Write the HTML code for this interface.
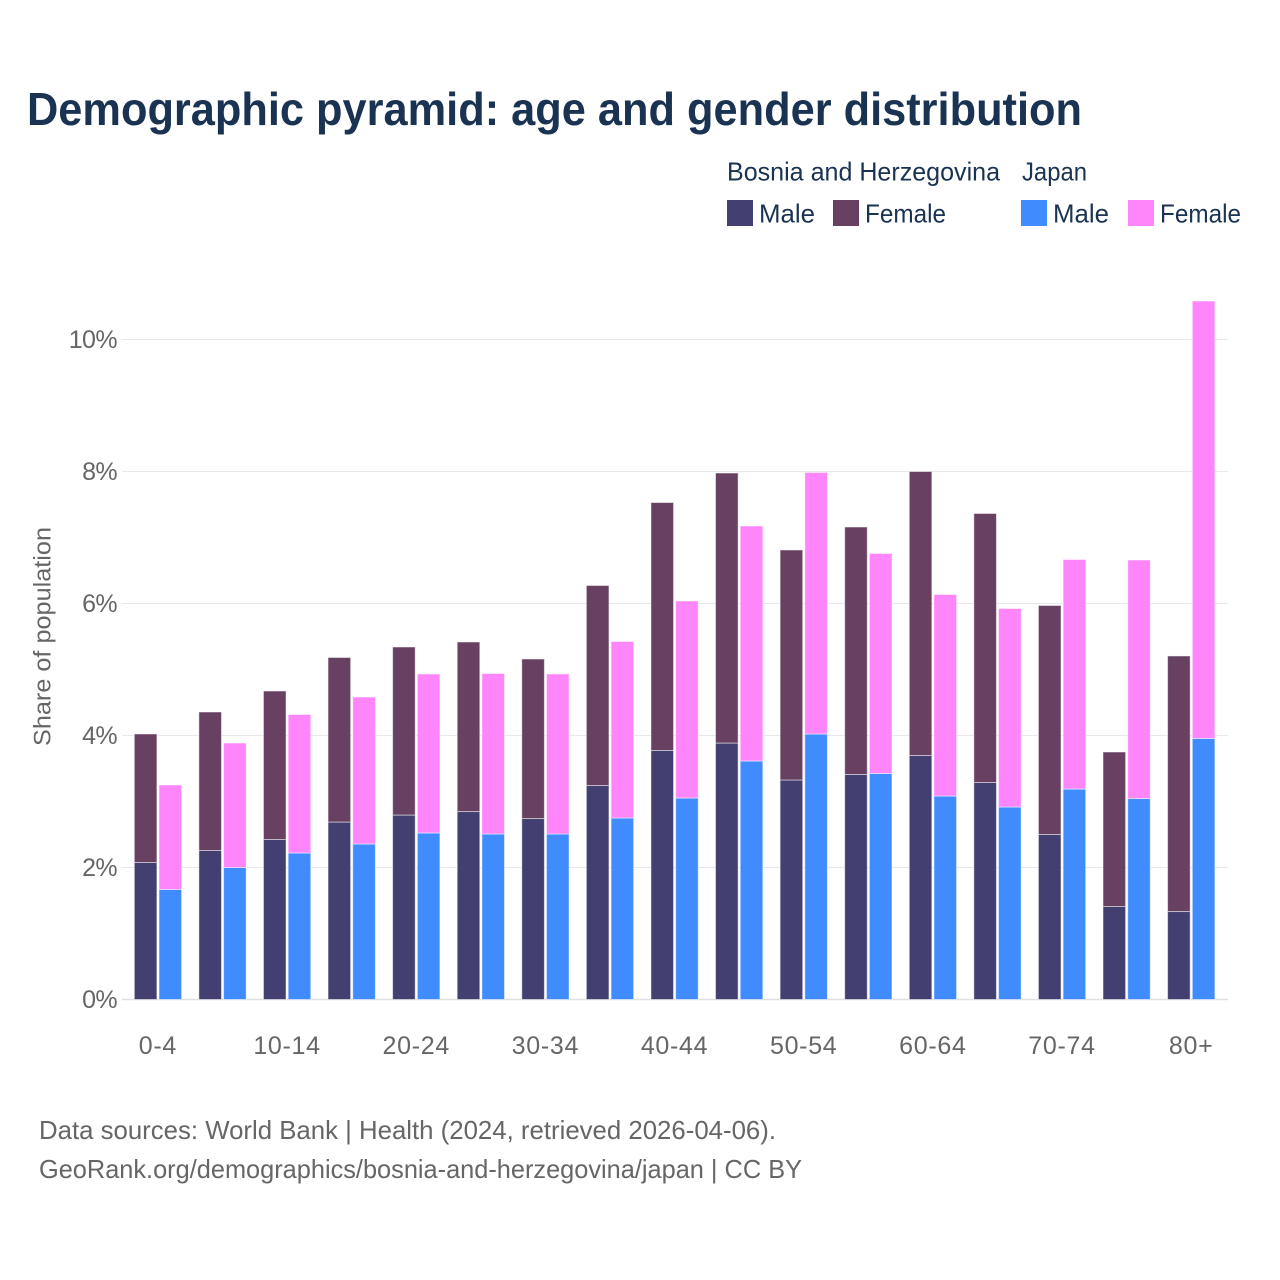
<!DOCTYPE html>
<html lang="en">
<head>
<meta charset="utf-8">
<title>Demographic pyramid: age and gender distribution</title>
<style>
html,body{margin:0;padding:0;background:#fff;}
svg{display:block;font-family:"Liberation Sans",sans-serif;}
</style>
</head>
<body>
<svg id="chart" xmlns="http://www.w3.org/2000/svg" width="1280" height="1280" viewBox="0 0 1280 1280">
  <rect x="0" y="0" width="1280" height="1280" fill="#ffffff"/>
  <text x="27" y="125" font-size="46" font-weight="700" fill="#1a3352" textLength="1055" lengthAdjust="spacingAndGlyphs">Demographic pyramid: age and gender distribution</text>

  <g font-size="26" fill="#1a3352">
    <text x="727" y="180.5" textLength="273" lengthAdjust="spacingAndGlyphs">Bosnia and Herzegovina</text>
    <text x="1022" y="180.5" textLength="65" lengthAdjust="spacingAndGlyphs">Japan</text>
    <rect x="727" y="200" width="26" height="26" fill="#433f70"/>
    <text x="759" y="222.5" textLength="56" lengthAdjust="spacingAndGlyphs">Male</text>
    <rect x="833" y="200" width="26" height="26" fill="#674062"/>
    <text x="865" y="222.5" textLength="81" lengthAdjust="spacingAndGlyphs">Female</text>
    <rect x="1021" y="200" width="26" height="26" fill="#408cff"/>
    <text x="1053" y="222.5" textLength="56" lengthAdjust="spacingAndGlyphs">Male</text>
    <rect x="1128" y="200" width="26" height="26" fill="#ff85fa"/>
    <text x="1160" y="222.5" textLength="81" lengthAdjust="spacingAndGlyphs">Female</text>
  </g>

  <g id="grid"></g>
  <g id="bars"></g>
  <g id="y-axis" font-size="25" fill="#666666" text-anchor="end" letter-spacing="-0.6"></g>
  <g id="x-axis" font-size="25" fill="#666666" text-anchor="middle" letter-spacing="0.7"></g>

  <text transform="translate(50.5,636.5) rotate(-90)" text-anchor="middle" font-size="24" fill="#666666" textLength="219" lengthAdjust="spacingAndGlyphs">Share of population</text>

  <g font-size="26" fill="#666666">
    <text x="39" y="1139" textLength="737" lengthAdjust="spacingAndGlyphs">Data sources: World Bank | Health (2024, retrieved 2026-04-06).</text>
    <text x="39" y="1178" textLength="763" lengthAdjust="spacingAndGlyphs">GeoRank.org/demographics/bosnia-and-herzegovina/japan | CC BY</text>
  </g>
</svg>
<script>
const categories = ["0-4","5-9","10-14","15-19","20-24","25-29","30-34","35-39","40-44","45-49","50-54","55-59","60-64","65-69","70-74","75-79","80+"];
const bosniaMale = [2.076,2.258,2.424,2.689,2.795,2.848,2.742,3.242,3.773,3.886,3.326,3.409,3.697,3.288,2.5,1.409,1.333];
const bosniaFemale = [1.947,2.098,2.25,2.493,2.546,2.569,2.417,3.031,3.757,4.091,3.485,3.75,4.303,4.076,3.47,2.341,3.872];
const japanMale = [1.667,2.0,2.22,2.356,2.523,2.508,2.508,2.75,3.053,3.614,4.023,3.424,3.083,2.917,3.189,3.045,3.955];
const japanFemale = [1.583,1.886,2.098,2.227,2.409,2.431,2.424,2.674,2.985,3.56,3.962,3.334,3.053,3.007,3.478,3.614,6.628];
const yTicks = [0,2,4,6,8,10];

const NS = "http://www.w3.org/2000/svg";
const yScale = function (v) { return 999.5 - v * 66; };
const xBand = function (i) { return 134.3 + i * 64.58; };
const barWidth = 22.6;
const japanOffset = 24.7;

const gridG = document.getElementById("grid");
const yAxisG = document.getElementById("y-axis");
const xAxisG = document.getElementById("x-axis");
const barsG = document.getElementById("bars");

yTicks.forEach(function (t) {
  const line = document.createElementNS(NS, "line");
  line.setAttribute("x1", 122);
  line.setAttribute("x2", 1228);
  line.setAttribute("y1", yScale(t));
  line.setAttribute("y2", yScale(t));
  line.setAttribute("stroke", t === 0 ? "#e0e0e4" : "#e8e8ec");
  line.setAttribute("stroke-width", t === 0 ? 1.5 : 1);
  
  
  gridG.appendChild(line);

  const label = document.createElementNS(NS, "text");
  label.setAttribute("x", 117);
  label.setAttribute("y", yScale(t) + 8.5);
  label.textContent = t + "%";
  
  
  yAxisG.appendChild(label);
});

function addBar(x, bottomValue, value, color, name) {
  const top = yScale(bottomValue + value);
  const bottom = yScale(bottomValue);
  const r = document.createElementNS(NS, "rect");
  r.setAttribute("x", x);
  r.setAttribute("y", top);
  r.setAttribute("width", barWidth);
  r.setAttribute("height", bottom - top);
  r.setAttribute("fill", color);
  r.setAttribute("stroke", "#ffffff");
  r.setAttribute("stroke-opacity", "0.5");
  r.setAttribute("stroke-width", "1");
  
  
  barsG.appendChild(r);
}

categories.forEach(function (cat, i) {
  const x0 = xBand(i);
  addBar(x0, 0, bosniaMale[i], "#433f70", "bar-bosnia-male");
  addBar(x0, bosniaMale[i], bosniaFemale[i], "#674062", "bar-bosnia-female");
  addBar(x0 + japanOffset, 0, japanMale[i], "#408cff", "bar-japan-male");
  addBar(x0 + japanOffset, japanMale[i], japanFemale[i], "#ff85fa", "bar-japan-female");

  if (i % 2 === 0) {
    const label = document.createElementNS(NS, "text");
    label.setAttribute("x", x0 + 23.6);
    label.setAttribute("y", 1054);
    label.textContent = cat;
    
    
    xAxisG.appendChild(label);
  }
});
</script>
</body>
</html>
